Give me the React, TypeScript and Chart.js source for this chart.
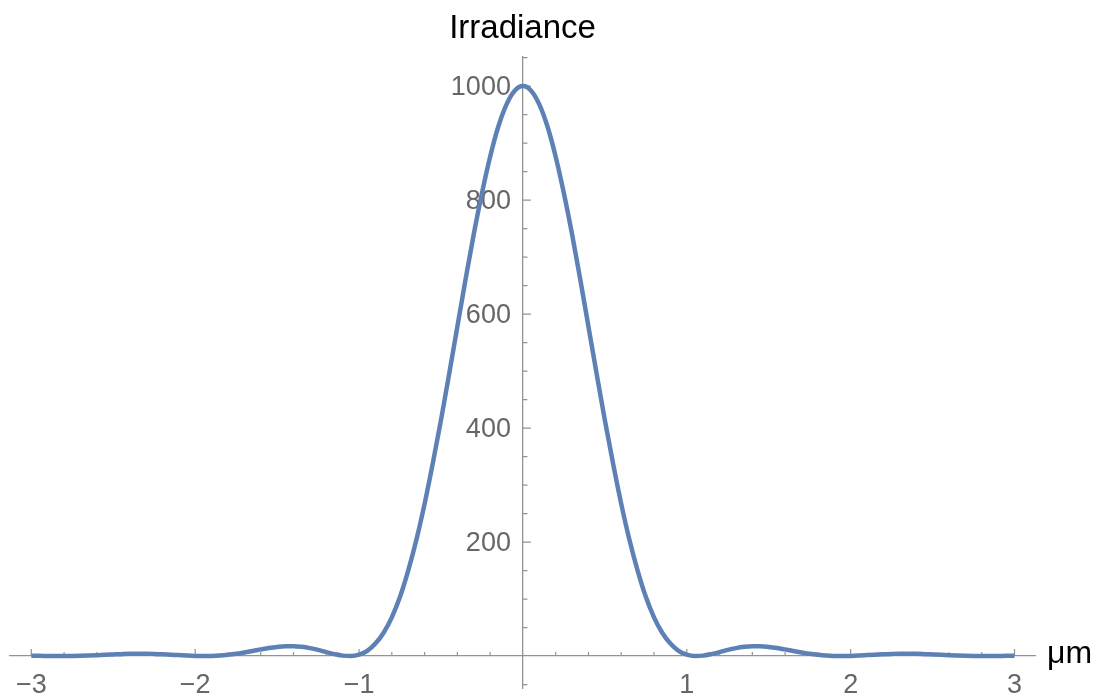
import { useEffect, useRef } from "react";
import { Chart, registerables } from "chart.js";

Chart.register(...registerables);

// Sample positions (µm)
const xValues = [
  -3.0, -2.95, -2.9, -2.85, -2.8, -2.75, -2.7, -2.65, -2.6, -2.55,
  -2.5, -2.45, -2.4, -2.35, -2.3, -2.25, -2.2, -2.15, -2.1, -2.05,
  -2.0, -1.95, -1.9, -1.85, -1.8, -1.75, -1.7, -1.65, -1.6, -1.55,
  -1.5, -1.45, -1.4, -1.35, -1.3, -1.25, -1.2, -1.15, -1.1, -1.05,
  -1.0, -0.95, -0.9, -0.85, -0.8, -0.75, -0.7, -0.65, -0.6, -0.55,
  -0.5, -0.45, -0.4, -0.35, -0.3, -0.25, -0.2, -0.15, -0.1, -0.05,
  0.0,
  0.05, 0.1, 0.15, 0.2, 0.25, 0.3, 0.35, 0.4, 0.45, 0.5,
  0.55, 0.6, 0.65, 0.7, 0.75, 0.8, 0.85, 0.9, 0.95, 1.0,
  1.05, 1.1, 1.15, 1.2, 1.25, 1.3, 1.35, 1.4, 1.45, 1.5,
  1.55, 1.6, 1.65, 1.7, 1.75, 1.8, 1.85, 1.9, 1.95, 2.0,
  2.05, 2.1, 2.15, 2.2, 2.25, 2.3, 2.35, 2.4, 2.45, 2.5,
  2.55, 2.6, 2.65, 2.7, 2.75, 2.8, 2.85, 2.9, 2.95, 3.0,
];

// Irradiance at each sample position
const irradiance = [
  0.7, 0.5, 0.2, 0.0, 0.0, 0.1, 0.4, 0.9, 1.5, 2.2,
  2.8, 3.4, 3.9, 4.1, 4.1, 3.8, 3.3, 2.5, 1.7, 0.9,
  0.3, 0.0, 0.2, 0.9, 2.2, 4.0, 6.4, 9.0, 11.7, 14.2,
  16.1, 17.3, 17.3, 16.2, 14.0, 10.9, 7.0, 3.5, 0.8, 0.1,
  2.4, 9.2, 22, 41, 68, 104, 150, 204, 267, 338,
  414, 495, 578, 661, 740, 812, 876, 929, 968, 992,
  1000,
  992, 968, 929, 876, 812, 740, 661, 578, 495, 414,
  338, 267, 204, 150, 104, 68, 41, 22, 9.2, 2.4,
  0.1, 0.8, 3.5, 7.0, 10.9, 14.0, 16.2, 17.3, 17.3, 16.1,
  14.2, 11.7, 9.0, 6.4, 4.0, 2.2, 0.9, 0.2, 0.0, 0.3,
  0.9, 1.7, 2.5, 3.3, 3.8, 4.1, 4.1, 3.9, 3.4, 2.8,
  2.2, 1.5, 0.9, 0.4, 0.1, 0.0, 0.0, 0.2, 0.5, 0.7,
];

const xTickLabels = [-3, -2, -1, 1, 2, 3];
const xMinorTicks = [
  -2.8, -2.6, -2.4, -2.2, -1.8, -1.6, -1.4, -1.2, -0.8, -0.6, -0.4, -0.2,
  0.2, 0.4, 0.6, 0.8, 1.2, 1.4, 1.6, 1.8, 2.2, 2.4, 2.6, 2.8,
];
const yTickLabels = [200, 400, 600, 800, 1000];
const yMinorTicks = [
  -50, 50, 100, 150, 250, 300, 350, 450, 500, 550, 650, 700, 750, 850, 900,
  950, 1050,
];

const xAxisLabel = "μm";
const yAxisTitle = "Irradiance";

const FONT = "'Liberation Sans', Arial, Helvetica, sans-serif";
const AXIS_COLOR = "#939393";
const LABEL_COLOR = "#666666";
const LINE_COLOR = "#5E81B5";
const TICK_FONT_SIZE = 27;

const fmt = (v: number) => (v < 0 ? "\u2212" + Math.abs(v) : String(v));

const zeroPadding = (s: any) => {
  s.paddingTop = 0;
  s.paddingBottom = 0;
  s.paddingLeft = 0;
  s.paddingRight = 0;
};

const axisDecor = {
  id: "axisDecor",
  beforeDatasetsDraw(chart: any) {
    const { ctx } = chart;
    const xs = chart.scales.x;
    const ys = chart.scales.y;
    const x0 = xs.getPixelForValue(0);
    const y0 = ys.getPixelForValue(0);
    ctx.save();
    ctx.strokeStyle = AXIS_COLOR;
    ctx.lineWidth = 1.2;
    ctx.beginPath();
    for (const v of xTickLabels) {
      const px = xs.getPixelForValue(v);
      ctx.moveTo(px, y0);
      ctx.lineTo(px, y0 - 7);
    }
    for (const v of xMinorTicks) {
      const px = xs.getPixelForValue(v);
      ctx.moveTo(px, y0);
      ctx.lineTo(px, y0 - 4);
    }
    for (const v of yTickLabels) {
      const py = ys.getPixelForValue(v);
      ctx.moveTo(x0, py);
      ctx.lineTo(x0 + 8, py);
    }
    for (const v of yMinorTicks) {
      const py = ys.getPixelForValue(v);
      ctx.moveTo(x0, py);
      ctx.lineTo(x0 + 4.5, py);
    }
    ctx.stroke();

    // y tick labels, to the left of the centred axis
    ctx.fillStyle = LABEL_COLOR;
    ctx.font = `${TICK_FONT_SIZE}px ${FONT}`;
    ctx.textAlign = "right";
    ctx.textBaseline = "middle";
    for (const v of yTickLabels) {
      const py = ys.getPixelForValue(v);
      ctx.fillText(fmt(v), x0 - 12, py + 1.5);
    }

    // x axis unit label
    ctx.fillStyle = "#000000";
    ctx.font = `32px ${FONT}`;
    ctx.textAlign = "left";
    ctx.textBaseline = "alphabetic";
    ctx.fillText(xAxisLabel, xs.right + 12, y0 + 7);
    ctx.restore();
  },
};

export default function App() {
  const canvasRef = useRef<HTMLCanvasElement | null>(null);

  useEffect(() => {
    if (!canvasRef.current) return;
    const points = xValues.map((x, i) => ({ x, y: irradiance[i] }));
    const chart = new Chart(canvasRef.current, {
      type: "line",
      data: {
        datasets: [
          {
            data: points,
            borderColor: LINE_COLOR,
            borderWidth: 4.5,
            pointRadius: 0,
            fill: false,
            cubicInterpolationMode: "monotone",
          },
        ],
      },
      options: {
        animation: false,
        responsive: false,
        devicePixelRatio: 1,
        layout: { padding: { left: 10, right: 66, top: 0, bottom: 10 } },
        plugins: {
          legend: { display: false },
          tooltip: { enabled: false },
          title: {
            display: true,
            text: yAxisTitle,
            fullSize: false,
            align: "center",
            color: "#000000",
            font: { family: FONT, size: 33, weight: "normal" },
            padding: { top: 8.7, bottom: 8.7 },
          },
        },
        scales: {
          x: {
            type: "linear",
            position: { y: 0 },
            min: -3.13,
            max: 3.125,
            afterBuildTicks: (s: any) => {
              s.ticks = xTickLabels.map((v) => ({ value: v }));
            },
            afterFit: zeroPadding,
            grid: { display: false, drawTicks: false },
            border: { display: true, color: AXIS_COLOR, width: 1.3 },
            ticks: {
              autoSkip: false,
              maxRotation: 0,
              padding: 13,
              color: LABEL_COLOR,
              font: { family: FONT, size: TICK_FONT_SIZE },
              callback: (v: any) => fmt(Number(v)),
            },
          },
          y: {
            type: "linear",
            position: { x: 0 },
            min: -56,
            max: 1051,
            afterBuildTicks: (s: any) => {
              s.ticks = yTickLabels.map((v) => ({ value: v }));
            },
            afterFit: zeroPadding,
            grid: { display: false, drawTicks: false },
            border: { display: true, color: AXIS_COLOR, width: 1.3 },
            ticks: { display: false },
          },
        },
      },
      plugins: [axisDecor],
    } as any);
    return () => chart.destroy();
  }, []);

  return (
    <div style={{ position: "fixed", left: 0, top: 0, width: 1101, height: 698, background: "#ffffff" }}>
      <canvas ref={canvasRef} width={1101} height={698} />
    </div>
  );
}
